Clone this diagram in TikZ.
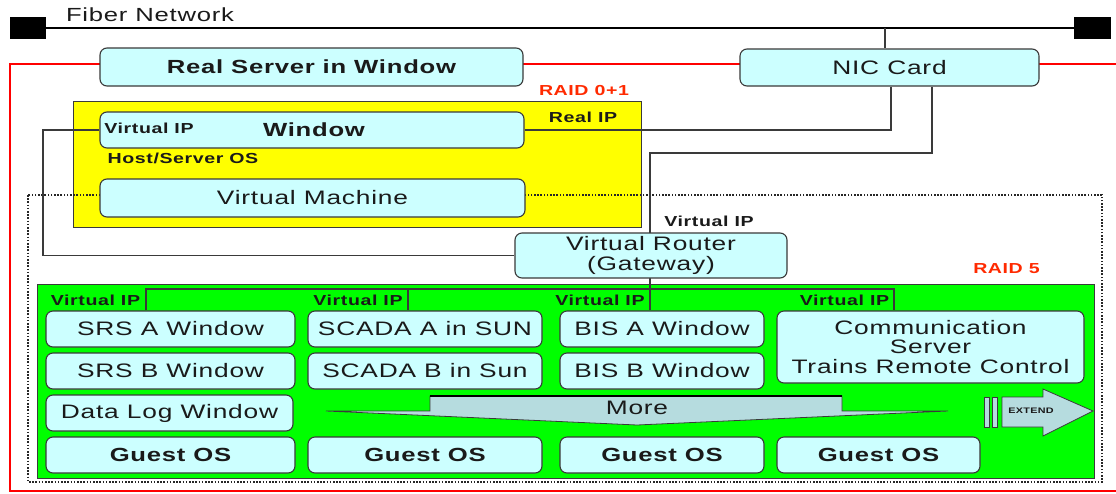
\documentclass[tikz,border=0pt]{standalone}
\usepackage{fontspec}
\setmainfont{Liberation Sans}[FakeStretch=1.35,LetterSpace=4]
\usetikzlibrary{calc}
\definecolor{boxfill}{HTML}{CCFFFF}
\definecolor{boxline}{HTML}{3A3A3A}
\definecolor{hostyellow}{HTML}{FFFF00}
\definecolor{guestgreen}{HTML}{00FF00}
\definecolor{arrowfill}{HTML}{B6DCDF}
\definecolor{raidred}{HTML}{FF2A00}
\definecolor{ink}{HTML}{1A1A1A}
\pgfdeclarelayer{bg}
\pgfdeclarelayer{wires}
\pgfsetlayers{bg,wires,main}

\begin{document}
\begin{tikzpicture}[x=1pt,y=-1pt,
  box/.style={draw=boxline,fill=boxfill,rounded corners=7pt,line width=1.1pt,
              inner sep=0pt,text=ink,align=center},
  fr/.style={font=\fontsize{19.5}{20}\selectfont},
  frl/.style={font=\fontsize{19.5}{19.5}\selectfont},
  fb/.style={font=\fontsize{19}{20}\selectfont\bfseries},
  lab/.style={font=\fontsize{14.5}{16}\selectfont\bfseries,inner sep=0pt,text=ink},
  raid/.style={font=\fontsize{14.5}{16}\selectfont\bfseries,inner sep=0pt,text=raidred},
  wire/.style={draw=boxline,line width=1.2pt},
  sq/.style={fill=black,inner sep=0pt,minimum height=22pt},
]
\useasboundingbox (0,0) rectangle (1116,493);
\clip (0,0) rectangle (1116,493);

% ---------- regions ----------
\begin{pgfonlayer}{bg}
  \fill[white] (0,0) rectangle (1116,493);
  \draw[red,line width=2.5pt] (10,64) rectangle (1140,491);
  \draw[fill=hostyellow,draw=boxline,line width=0.9pt] (73,101) rectangle (641,227);
  \draw[black!85,line width=2.2pt,dash pattern=on 1.6pt off 1.6pt] (28,195) rectangle (1102,482);
  \draw[fill=guestgreen,draw=boxline,line width=0.9pt] (37,284) rectangle (1094,478);
\end{pgfonlayer}

% ---------- fiber backbone ----------
\node[sq,minimum width=36pt] (fl) at (28,28) {};
\node[sq,minimum width=37pt] (fr) at (1092.5,28) {};
\node[font=\fontsize{19}{20}\selectfont,text=ink,inner sep=0pt] (fibertxt) at (150,15) {Fiber Network};

% ---------- host side ----------
\node[box,fb,minimum width=423pt,minimum height=38pt] (rs) at (311.5,67) {Real Server in Window};
\node[box,fr,minimum width=299pt,minimum height=37pt] (nic) at (889.5,67.5) {NIC Card};
\node[box,minimum width=424pt,minimum height=36pt] (win) at (312,130) {};
\node[box,frl,minimum width=425pt,minimum height=38pt] (vm) at (312.5,198) {Virtual Machine};
\node[fb,text=ink,inner sep=0pt] (wintxt) at (314,130) {Window};
\node[lab] (vipwin) at (149,128) {Virtual IP};
\node[lab] (host) at (183,158) {Host/Server OS};
\node[lab] (realip) at (583,117) {Real IP};
\node[raid] (raid01) at (584,91) {RAID 0+1};

% ---------- virtual router ----------
\node[box,frl,minimum width=272pt,minimum height=45pt] (router) at (651,255.5)
  {Virtual Router\\(Gateway)};
\node[lab] (viprt) at (709,221) {Virtual IP};
\node[raid] (raid5) at (1006.5,269) {RAID 5};

% ---------- guest machines ----------
\node[box,frl,minimum width=249pt,minimum height=36pt] (srsa) at (170.5,329) {SRS A Window};
\node[box,frl,minimum width=234pt,minimum height=36pt] (scadaa) at (425,329) {SCADA A in SUN};
\node[box,frl,minimum width=204pt,minimum height=36pt] (bisa) at (662,329) {BIS A Window};
\node[box,frl,minimum width=307pt,minimum height=72pt] (comm) at (930.5,347)
  {Communication\\Server\\Trains Remote Control};
\node[box,frl,minimum width=249pt,minimum height=36pt] (srsb) at (170.5,371) {SRS B Window};
\node[box,frl,minimum width=234pt,minimum height=36pt] (scadab) at (425,371) {SCADA B in Sun};
\node[box,frl,minimum width=204pt,minimum height=36pt] (bisb) at (662,371) {BIS B Window};
\node[box,frl,minimum width=247pt,minimum height=36pt] (dlog) at (169.5,413) {Data Log Window};
\node[box,fb,minimum width=249pt,minimum height=36pt] (g1) at (170.5,455) {Guest OS};
\node[box,fb,minimum width=234pt,minimum height=36pt] (g2) at (425,455) {Guest OS};
\node[box,fb,minimum width=204pt,minimum height=36pt] (g3) at (662,455) {Guest OS};
\node[box,fb,minimum width=203pt,minimum height=36pt] (g4) at (878.5,455) {Guest OS};

\node[lab] (vip1) at (95.5,300) {Virtual IP};
\node[lab] (vip2) at (358,300) {Virtual IP};
\node[lab] (vip3) at (600,300) {Virtual IP};
\node[lab] (vip4) at (844.5,300) {Virtual IP};

% ---------- "More" banner ----------
\draw[fill=arrowfill,draw=boxline,line width=0.8pt]
  (326,411) -- (430,411) -- (430,396) -- (842,396) -- (842,411) -- (948,411) -- (637,425) -- cycle;
\draw[black,line width=2.6pt] (430,396) -- (842,396);
\node[font=\fontsize{19.5}{20}\selectfont,text=ink,inner sep=0pt] (more) at (637,408) {More};

% ---------- EXTEND arrow ----------
\draw[fill=arrowfill,draw=boxline,line width=0.8pt] (984,397) rectangle (989.5,427);
\draw[fill=arrowfill,draw=boxline,line width=0.8pt] (992,397) rectangle (997.5,427);
\draw[fill=arrowfill,draw=boxline,line width=0.8pt]
  (1002,397) -- (1043,397) -- (1043,389) -- (1093,411) -- (1043,436) -- (1043,427) -- (1002,427) -- cycle;
\node[font=\fontsize{8}{9}\selectfont\bfseries,text=ink,inner sep=0pt] (extend) at (1031,411) {EXTEND};

% ---------- connectors ----------
\coordinate (tap) at (885,28);
\coordinate (rj) at (650,153);
\coordinate (lx) at (43,0);
\coordinate (b1) at (146,289);
\coordinate (b2) at (408,289);
\coordinate (b4) at (894,289);
\begin{pgfonlayer}{wires}
  \draw[black,line width=1.6pt] (fl.east) -- (fr.west);
  \draw[wire] (tap) -- (tap |- nic.north);
  \draw[wire] ([xshift=1.5pt]nic.south) |- (win.east);
  \draw[wire] ([xshift=42.5pt]nic.south) |- (rj) -- (rj |- bisa.north);
  \draw[wire] (win.west) -| (lx |- router.west) -- (router.west);
  \draw[wire] (b1 |- srsa.north) -- (b1) -- (b4) -- (b4 |- comm.north);
  \draw[wire] (b2) -- (b2 |- scadaa.north);
\end{pgfonlayer}
\end{tikzpicture}
\end{document}
